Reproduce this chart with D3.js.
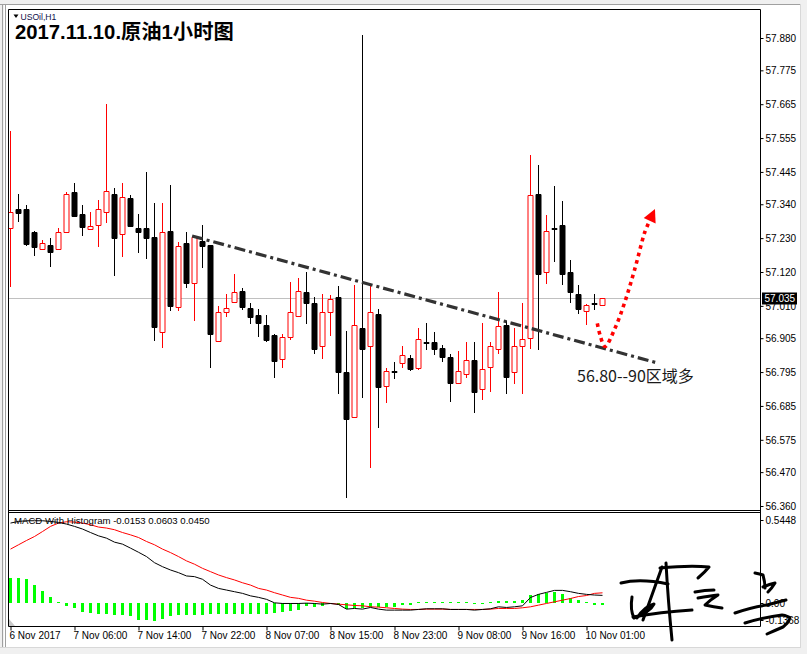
<!DOCTYPE html>
<html><head><meta charset="utf-8">
<script src="https://cdn.jsdelivr.net/npm/d3@7"></script>
<style>body{margin:0;background:#f0f0f0}svg{display:block}</style>
</head><body>
<svg id="c" width="807" height="654"></svg>
<script>
// ---------- DATA ----------
const open = [57.262,57.325,57.325,57.250,57.194,57.208,57.194,57.251,57.380,57.308,
 57.259,57.272,57.314,57.372,57.242,57.361,57.263,57.263,57.235,56.924,
 57.253,57.007,57.214,57.083,57.222,57.208,56.897,56.989,57.022,57.058,
 57.003,56.980,56.948,56.915,56.836,56.908,56.978,57.054,57.018,56.879,
 56.989,57.038,56.794,56.650,56.937,56.879,56.983,56.749,56.798,56.823,
 56.842,56.807,56.893,56.892,56.873,56.844,56.760,56.788,56.834,56.741,
 56.812,56.871,56.948,56.794,56.879,56.907,57.372,57.119,57.263,57.272,
 57.119,57.049,56.992,57.018,57.012];
const high = [57.579,57.373,57.338,57.253,57.225,57.230,57.264,57.380,57.409,57.338,
 57.315,57.354,57.666,57.393,57.409,57.370,57.308,57.445,57.344,57.344,
 57.403,57.216,57.250,57.236,57.273,57.208,57.010,57.049,57.114,57.069,
 57.019,57.000,56.980,56.919,56.919,57.088,57.101,57.120,57.039,57.049,
 57.044,57.075,56.928,57.078,57.890,57.076,56.999,56.807,56.827,56.880,
 56.851,56.939,56.954,56.925,56.882,56.854,56.863,56.893,56.893,56.953,
 56.893,57.054,56.962,56.937,57.018,57.500,57.468,57.305,57.400,57.350,
 57.158,57.078,57.017,57.049,57.035];
const low = [57.076,57.287,57.209,57.176,57.194,57.140,57.194,57.249,57.303,57.241,
 57.259,57.203,57.283,57.111,57.173,57.270,57.185,57.165,56.900,56.877,
 56.997,56.998,57.072,56.965,57.137,56.812,56.897,56.978,57.022,56.999,
 56.954,56.913,56.897,56.780,56.812,56.901,56.978,56.955,56.858,56.842,
 56.916,56.728,56.390,56.650,56.715,56.488,56.618,56.697,56.777,56.812,
 56.802,56.806,56.870,56.853,56.832,56.702,56.760,56.780,56.666,56.707,
 56.733,56.858,56.728,56.760,56.728,56.874,56.871,57.085,57.157,57.081,
 57.024,56.988,56.952,57.001,57.012];
const close = [57.314,57.313,57.211,57.202,57.213,57.186,57.249,57.372,57.303,57.267,
 57.268,57.324,57.383,57.231,57.363,57.270,57.251,57.231,56.942,57.249,
 57.011,57.203,57.085,57.234,57.206,56.918,56.989,57.002,57.054,57.007,
 56.973,56.955,56.899,56.832,56.909,56.989,57.057,57.020,56.871,56.989,
 57.031,56.796,56.642,56.947,56.869,56.989,56.747,56.797,56.796,56.849,
 56.805,56.901,56.890,56.871,56.843,56.760,56.797,56.833,56.731,56.804,
 56.879,56.944,56.780,56.879,56.901,57.369,57.113,57.252,57.261,57.113,
 57.056,56.999,57.013,57.016,57.035];

const macdHist = [0.152,0.152,0.142,0.107,0.073,0.036,0.006,-0.020,-0.030,-0.055,
 -0.061,-0.065,-0.069,-0.075,-0.075,-0.081,-0.101,-0.105,-0.109,-0.095,
 -0.081,-0.075,-0.075,-0.071,-0.071,-0.069,-0.069,-0.065,-0.065,-0.065,
 -0.065,-0.065,-0.065,-0.061,-0.055,-0.048,-0.044,-0.022,-0.026,-0.018,
 -0.010,-0.012,-0.038,-0.034,-0.034,-0.024,-0.024,-0.028,-0.024,-0.014,
 -0.014,0.004,0.004,0.004,0.004,0.004,0.004,0.004,-0.008,-0.008,
 0.004,0.010,0.010,0.012,0.016,0.046,0.053,0.057,0.067,0.053,
 0.030,0.016,0.003,-0.014,-0.0153];
const macdMain = [0.481,0.491,0.495,0.495,0.495,0.491,0.485,0.475,0.461,0.445,
 0.424,0.404,0.390,0.366,0.354,0.330,0.305,0.279,0.242,0.218,
 0.198,0.182,0.162,0.158,0.142,0.107,0.087,0.077,0.067,0.057,
 0.042,0.033,0.021,0.000,-0.004,-0.004,-0.004,-0.002,-0.004,-0.008,
 -0.004,-0.010,-0.038,-0.034,-0.038,-0.028,-0.038,-0.044,-0.044,-0.044,
 -0.044,-0.040,-0.036,-0.036,-0.036,-0.040,-0.040,-0.040,-0.044,-0.040,
 -0.036,-0.024,-0.028,-0.024,-0.018,0.032,0.051,0.063,0.075,0.075,
 0.067,0.057,0.051,0.047,0.045];
const macdSignal = [0.324,0.350,0.376,0.400,0.430,0.461,0.481,0.489,0.487,0.481,
 0.471,0.457,0.451,0.441,0.424,0.410,0.394,0.370,0.350,0.324,
 0.303,0.279,0.253,0.233,0.208,0.188,0.168,0.152,0.138,0.121,
 0.107,0.087,0.077,0.061,0.047,0.033,0.027,0.016,0.010,0.002,
 -0.004,-0.008,-0.012,-0.016,-0.018,-0.024,-0.026,-0.030,-0.034,-0.038,
 -0.040,-0.040,-0.038,-0.038,-0.038,-0.040,-0.040,-0.040,-0.040,-0.040,
 -0.038,-0.034,-0.034,-0.034,-0.030,-0.024,-0.014,-0.004,0.006,0.016,
 0.026,0.038,0.044,0.057,0.0603];

const priceTicks = [57.880,57.775,57.665,57.555,57.445,57.340,57.230,57.120,57.010,56.905,56.795,56.685,56.575,56.470,56.360];
const macdTicks = [0.5448,0.00,-0.1368];
const macdTickLabels = ["0.5448","0.00","-0.1368"];
const dateTickIdx = [0,8,16,24,32,40,48,56,64,72];
const dateTickLabels = ["6 Nov 2017","7 Nov 06:00","7 Nov 14:00","7 Nov 22:00","8 Nov 07:00","8 Nov 15:00","8 Nov 23:00","9 Nov 08:00","9 Nov 16:00","10 Nov 01:00"];
const lastPrice = 57.035;
const trendIdx = [22.7, 80.8];
const trendPrice = [57.237, 56.825];
const arrowIdx = [73.35, 73.7, 74.31, 75.56, 76.81, 78.06, 79.31, 79.94];
const arrowPrice = [56.953, 56.915, 56.878, 56.937, 57.024, 57.132, 57.251, 57.289];
const arrowTip = [80.56, 57.325];

// ---------- LAYOUT ----------
const L = 8.5, R = 760.5, T = 9.5, B1 = 510.5, T2 = 512.5, B2 = 626.5;
const svg = d3.select("#c");
const x = d3.scaleLinear().domain([0, 93]).range([10.5, 754.5]);
const y = d3.scaleLinear().domain([56.360, 57.880]).range([506, 38]);
const ym = d3.scaleLinear().domain([-0.1368, 0.5448]).range([625.5, 512.5]);
const axisFont = "'Liberation Sans', Arial, sans-serif";

// window frame
svg.append("rect").attr("width",807).attr("height",654).attr("fill","#f0f0f0");
svg.append("rect").attr("x",4).attr("y",4).attr("width",796).attr("height",643).attr("fill","#fff");
const fr = svg.append("g").attr("fill","none");
fr.append("line").attr("x1",0).attr("x2",801).attr("y1",4.5).attr("y2",4.5).attr("stroke","#a0a0a0");
fr.append("line").attr("x1",2.5).attr("x2",2.5).attr("y1",4).attr("y2",648).attr("stroke","#a0a0a0");
fr.append("line").attr("x1",5.5).attr("x2",5.5).attr("y1",4).attr("y2",648).attr("stroke","#a0a0a0");
fr.append("line").attr("x1",800.5).attr("x2",800.5).attr("y1",4).attr("y2",648).attr("stroke","#d8d8d8");
fr.append("line").attr("x1",0).attr("x2",801).attr("y1",647.5).attr("y2",647.5).attr("stroke","#d8d8d8");

// clip
const defs = svg.append("defs");
defs.append("clipPath").attr("id","cm").append("rect").attr("x",L+0.5).attr("y",T+0.5).attr("width",R-L-1).attr("height",B1-T-1);
defs.append("clipPath").attr("id","cd").append("rect").attr("x",L+0.5).attr("y",T2+0.5).attr("width",R-L-1).attr("height",B2-T2-1);

// current price line
const py = Math.round(y(lastPrice)) + 0.5;
svg.append("line").attr("x1",L).attr("x2",R).attr("y1",py).attr("y2",py).attr("stroke","#c0c0c0");

// candles
const gC = svg.append("g").attr("clip-path","url(#cm)");
const bars = d3.range(open.length).map(i => ({i, o:open[i], h:high[i], l:low[i], c:close[i]}));
bars.forEach(d => {
  const up = d.c > d.o;
  const col = up ? "#ff0000" : "#000000";
  const cx = x(d.i);
  gC.append("line").attr("x1",cx).attr("x2",cx)
    .attr("y1",Math.round(y(d.h))).attr("y2",Math.round(y(d.l))+1)
    .attr("stroke",col).attr("stroke-width",1);
  const t = Math.round(y(Math.max(d.o,d.c))) + 0.5;
  const b = Math.round(y(Math.min(d.o,d.c))) + 0.5;
  gC.append("path").attr("d",`M${cx-2.5},${t}H${cx+2.5}V${b}H${cx-2.5}Z`)
    .attr("fill", up ? "#fff" : "#000").attr("stroke",col).attr("stroke-width",1);
});

// trend line (dash-dot)
gC.append("line")
  .attr("x1",x(trendIdx[0])).attr("y1",y(trendPrice[0]))
  .attr("x2",x(trendIdx[1])).attr("y2",y(trendPrice[1]))
  .attr("stroke","#333").attr("stroke-width",3.2)
  .attr("stroke-dasharray","11,4,3,4");

// red dotted arrow
const arrowLine = d3.line().x(d=>x(d[0])).y(d=>y(d[1])).curve(d3.curveCatmullRom);
const arrPts = arrowIdx.map((v,k)=>[v, arrowPrice[k]]);
gC.append("path").attr("d",arrowLine(arrPts)).attr("fill","none")
  .attr("stroke","#ff0000").attr("stroke-width",3.6).attr("stroke-dasharray","3.6,4");
{
  const tx = x(arrowTip[0]), ty = y(arrowTip[1]);
  const p = arrPts[arrPts.length-1];
  const bx = x(p[0]), by = y(p[1]);
  const ang = Math.atan2(ty-by, tx-bx);
  const len = 13, w = 6.5;
  const baseX = tx - len*Math.cos(ang), baseY = ty - len*Math.sin(ang);
  const nx = -Math.sin(ang), ny = Math.cos(ang);
  gC.append("polygon").attr("points",
    `${tx},${ty} ${baseX+nx*w},${baseY+ny*w} ${baseX-nx*w},${baseY-ny*w}`)
    .attr("fill","#ff0000");
}

// annotation text
svg.append("text").attr("x",577).attr("y",382).attr("font-family","'Noto Sans CJK SC', sans-serif")
  .attr("font-size",16).attr("fill","#1a1a1a").text("56.80--90区域多");

// title
svg.append("path").attr("d","M13.5,14.5 L18.5,14.5 L16,18 Z").attr("fill","#000");
svg.append("text").attr("x",20.5).attr("y",19.5).attr("font-family",axisFont).attr("font-size",8.6)
  .attr("fill","#10104a").text("USOil,H1");
svg.append("text").attr("x",15).attr("y",38.5).attr("font-family","'Liberation Sans','Noto Sans CJK SC',sans-serif")
  .attr("font-size",20.3).attr("font-weight","bold").attr("fill","#000").text("2017.11.10.原油1小时图");

// MACD panel
const gD = svg.append("g").attr("clip-path","url(#cd)");
svg.append("text").attr("x",14).attr("y",524).attr("font-family",axisFont).attr("font-size",9.6)
  .attr("fill","#000").text("MACD With Histogram -0.0153 0.0603 0.0450");
const z0 = ym(0);
macdHist.forEach((v,i) => {
  const yv = ym(v);
  let top = Math.round(Math.min(yv, z0)), bot = Math.round(Math.max(yv, z0));
  if (bot - top < 1) { if (v >= 0) top = bot - 1; else bot = top + 1; }
  gD.append("rect").attr("x",Math.round(x(i)-1.5)).attr("y",top).attr("width",3).attr("height",bot-top)
    .attr("fill","#00ff00");
});
const ml = d3.line().x((d,i)=>x(i)).y(d=>ym(d));
gD.append("path").attr("d",ml(macdSignal)).attr("fill","none").attr("stroke","#ff0000").attr("stroke-width",1);
gD.append("path").attr("d",ml(macdMain)).attr("fill","none").attr("stroke","#000").attr("stroke-width",1);
svg.append("polygon").attr("points",`9,619 9,626 15,626`).attr("fill","#c8c8c8");

// panel borders
const bd = svg.append("g").attr("stroke","#000").attr("stroke-width",1);
bd.append("line").attr("x1",L).attr("x2",R).attr("y1",T).attr("y2",T);
bd.append("line").attr("x1",L).attr("x2",R).attr("y1",B1).attr("y2",B1);
bd.append("line").attr("x1",L).attr("x2",R).attr("y1",T2).attr("y2",T2);
bd.append("line").attr("x1",L).attr("x2",R).attr("y1",B2).attr("y2",B2);
bd.append("line").attr("x1",L).attr("x2",L).attr("y1",T).attr("y2",B2);
bd.append("line").attr("x1",R).attr("x2",R).attr("y1",T).attr("y2",B2);

// price axis
const ax = svg.append("g").attr("transform",`translate(${R},0)`)
  .call(d3.axisRight(y).tickValues(priceTicks).tickSize(3).tickPadding(2).tickFormat(d3.format(".3f")));
ax.select(".domain").remove();
ax.selectAll("text").attr("font-family",axisFont).attr("font-size",10).attr("fill","#000");
ax.selectAll("line").attr("stroke","#000");

// last price tag
svg.append("rect").attr("x",762).attr("y",py-6).attr("width",35).attr("height",12).attr("fill","#000");
svg.append("text").attr("x",764.5).attr("y",py+3.5).attr("font-family",axisFont).attr("font-size",10)
  .attr("fill","#fff").text(d3.format(".3f")(lastPrice));

// MACD axis
const my = v => Math.min(Math.max(ym(v), T2 + 7.5), B2 - 7);
const mAx = svg.append("g");
macdTicks.forEach((v,k) => {
  const yy = Math.round(my(v)) + 0.5;
  mAx.append("line").attr("x1",R).attr("x2",R+3).attr("y1",yy).attr("y2",yy).attr("stroke","#000");
  mAx.append("text").attr("x",R+5).attr("y",yy).attr("dy","0.35em").attr("font-family",axisFont)
    .attr("font-size",10).attr("fill","#000").text(macdTickLabels[k]);
});

// date axis
const dx = svg.append("g").attr("transform",`translate(0,${B2})`)
  .call(d3.axisBottom(x).tickValues(dateTickIdx).tickSize(4).tickFormat((d,i)=>dateTickLabels[i]));
dx.select(".domain").remove();
dx.selectAll("line").attr("stroke","#000");
dx.selectAll("text").attr("text-anchor","start").attr("x",-1.5).attr("y",5).attr("dy","0.71em")
  .attr("font-family",axisFont).attr("font-size",10).attr("fill","#000");

// handwritten signature (decoration)
const sig = svg.append("g").attr("fill","none").attr("stroke","#000").attr("stroke-width",3)
  .attr("stroke-linecap","round").attr("stroke-linejoin","round");
[
 "M621,583 Q640,578 668,584",
 "M666,563 Q668,600 672,640",
 "M662,567 Q652,595 643,620",
 "M632,597 Q630,610 634,618 Q650,612 654,604 Q645,606 637,618",
 "M633,617 Q660,612 692,610",
 "M660,568 Q690,565 709,567 Q705,572 698,578",
 "M695,592 Q705,590 714,590",
 "M698,598 Q710,596 718,595 Q710,600 705,605 Q714,607 722,608",
 "M755,573 Q760,574 763,575 Q765,582 765,588",
 "M763,587 Q770,584 775,583 Q772,588 768,592",
 "M735,613 Q752,607 767,605 Q778,602 786,600",
 "M745,623 Q765,617 782,615 Q788,616 790,618",
 "M767,634 Q776,630 783,627 Q788,623 789,620"
].forEach(d => sig.append("path").attr("d", d));
</script>
</body></html>
